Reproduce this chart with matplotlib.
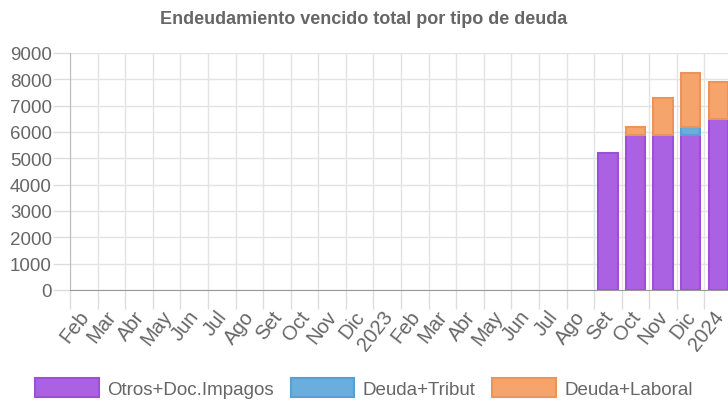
import numpy as np
import matplotlib
matplotlib.use("Agg")
import matplotlib.pyplot as plt
import matplotlib.transforms as mtransforms
from matplotlib.patches import Patch

plt.rcParams["font.family"] = ["Liberation Sans", "DejaVu Sans"]

LABELS = ["Feb", "Mar", "Abr", "May", "Jun", "Jul", "Ago", "Set", "Oct", "Nov", "Dic", "2023",
          "Feb", "Mar", "Abr", "May", "Jun", "Jul", "Ago", "Set", "Oct", "Nov", "Dic", "2024"]
OTROS = [0] * 19 + [5200, 5900, 5900, 5900, 6500]
TRIBUT = [0] * 19 + [0, 0, 0, 300, 0]
LABORAL = [0] * 19 + [0, 300, 1400, 2050, 1400]

SERIES = [
    ("Otros+Doc.Impagos", OTROS, "#aa62e3", "#9b50d8"),
    ("Deuda+Tribut", TRIBUT, "#69aedd", "#5a9fd2"),
    ("Deuda+Laboral", LABORAL, "#f5a56c", "#ea935a"),
]

GRAY = "#666666"

fig = plt.figure(figsize=(7.28, 4.06), dpi=100)
ax = fig.add_axes([70 / 728, 1 - 291 / 406, 662 / 728, (291 - 54) / 406])

x = np.arange(len(LABELS))
bottom = np.zeros(len(LABELS))
for name, vals, fc, ec in SERIES:
    v = np.array(vals, dtype=float)
    m = v > 0
    ax.bar(x[m], v[m], 0.7, bottom=bottom[m], color=fc, edgecolor=ec, linewidth=1.5, zorder=3)
    bottom += v

ax.set_xlim(-0.5, len(LABELS) - 0.5)
ax.set_ylim(0, 9000)
ax.set_yticks(range(0, 9001, 1000))
ax.tick_params(axis="y", labelsize=13.5, labelcolor=GRAY, color="#dddddd", length=12, width=1, pad=1)

ax.set_xticks(x)
ax.set_xticklabels(LABELS, rotation=52, ha="right", rotation_mode="anchor")
ax.tick_params(axis="x", which="major", length=0, labelsize=14.5, labelcolor=GRAY, pad=12)
ax.set_xticks(np.arange(-0.5, len(LABELS), 1), minor=True)
ax.tick_params(axis="x", which="minor", length=13.5, color="#dddddd", width=1)
shift = mtransforms.ScaledTranslation(-6 / 100, 0, fig.dpi_scale_trans)
for lab in ax.get_xticklabels():
    lab.set_transform(lab.get_transform() + shift)

ax.grid(axis="y", color="#e3e3e3", linewidth=1, zorder=0)
ax.grid(axis="x", which="minor", color="#e3e3e3", linewidth=1, zorder=0)
for s in ["top", "right"]:
    ax.spines[s].set_visible(False)
ax.spines["left"].set_color("#bbbbbb")
ax.spines["bottom"].set_color("#999999")
ax.spines["left"].set_zorder(4)
ax.spines["bottom"].set_zorder(4)

fig.text(0.5, 1 - 20 / 406, "Endeudamiento vencido total por tipo de deuda", ha="center", va="center",
         fontsize=13, fontweight="bold", color=GRAY)

handles = [Patch(facecolor=fc, edgecolor=ec, linewidth=1.5, label=name) for name, _, fc, ec in SERIES]
fig.legend(handles=handles, loc="center", bbox_to_anchor=(0.5, 1 - 389 / 406), ncol=3, frameon=False,
           fontsize=13.5, labelcolor=GRAY, handlelength=3.4, handleheight=1.2, handletextpad=0.45,
           columnspacing=0.9)

fig.savefig("out.png", dpi=100)
